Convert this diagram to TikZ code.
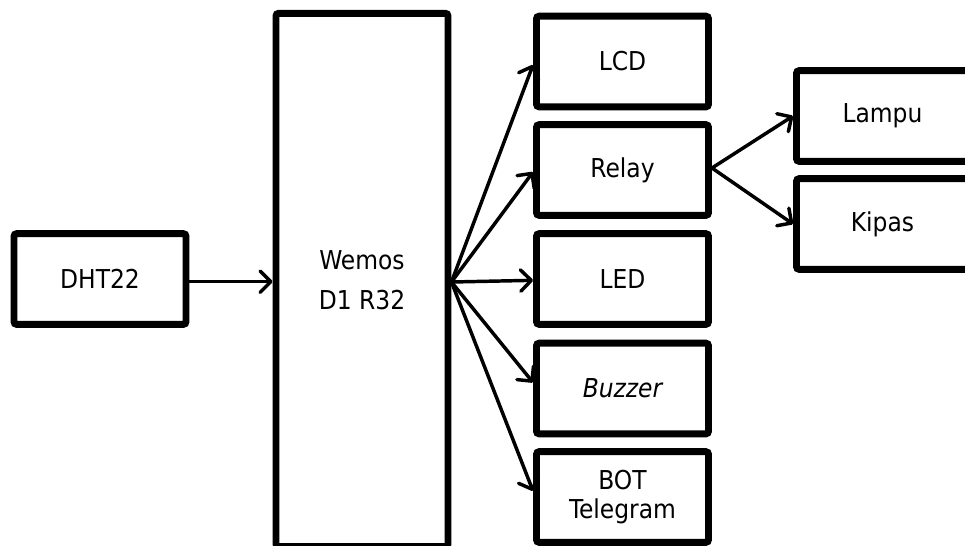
\documentclass[tikz,border=0pt]{standalone}
\usepackage{fontspec}
\setmainfont{DejaVu Sans Condensed}
\usetikzlibrary{arrows.meta,calc}
\begin{document}
\begin{tikzpicture}[x=0.75pt,y=-0.75pt,
  blk/.style={draw=black,line width=5.2pt,rounded corners=2pt,fill=white,
    minimum width=129pt,minimum height=68pt,inner sep=0pt,align=center,
    font=\fontsize{19.5}{22}\selectfont},
  conn/.style={line width=2.6pt,line cap=round,
    -{Straight Barb[length=8pt,width=16pt,line cap=round,line join=round]}}]
\useasboundingbox (0,0) rectangle (965,546);
\node[blk] (dht) at (100,279) {DHT22};
\node[blk,minimum height=400pt,font=\fontsize{19.5}{30}\selectfont] (wem) at (362,280) {Wemos\\D1 R32};
\node[blk] (lcd) at (622.5,61.5) {LCD};
\node[blk] (rel) at (622.5,170) {Relay};
\node[blk] (led) at (622.5,279) {LED};
\node[blk] (buz) at (622.5,388.5) {\itshape Buzzer};
\node[blk] (bot) at (622.5,497) {BOT\\Telegram};
\node[blk] (lam) at (882.5,116) {Lampu};
\node[blk] (kip) at (882.5,224) {Kipas};
\coordinate (o) at ($(wem.east)+(0,-1.5pt)$);
\draw[conn] ($(dht.east)+(0,-2pt)$) -- ($(dht.east -| wem.west)+(0,-2pt)$);
\draw[conn] (o) -- ($(lcd.west)+(0,-2.5pt)$);
\draw[conn] (o) -- ($(rel.west)+(0,-1.5pt)$);
\draw[conn] (o) -- ($(led.west)+(0,-1pt)$);
\draw[conn] (o) -- ($(buz.west)+(0,4.5pt)$);
\draw[conn] (o) -- ($(bot.west)+(0,4.5pt)$);
\draw[conn] ($(rel.east)+(0,1.5pt)$) -- (lam.west);
\draw[conn] ($(rel.east)+(0,1.5pt)$) -- (kip.west);
\end{tikzpicture}
\end{document}
